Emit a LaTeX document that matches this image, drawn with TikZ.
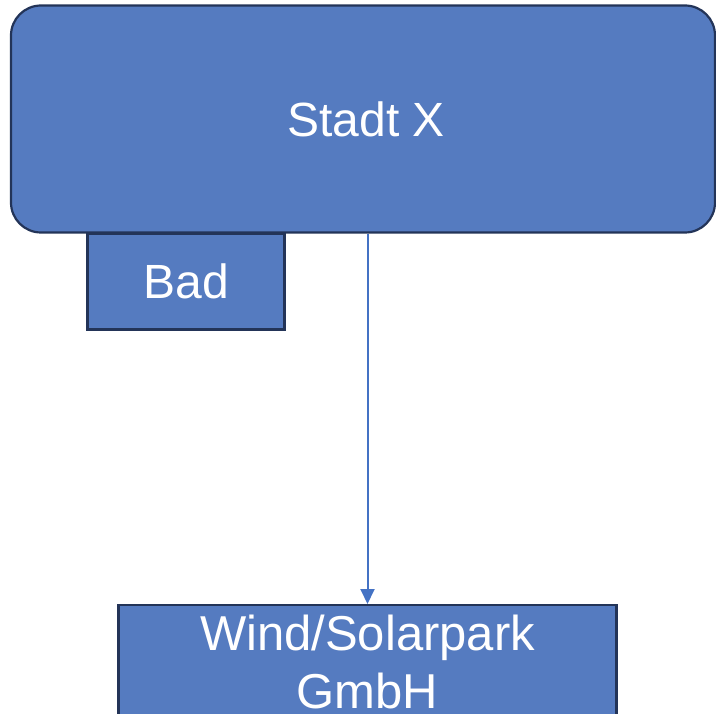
\documentclass[tikz,border=0pt]{standalone}
\usepackage{fontspec}
\setmainfont{Liberation Sans}
\usetikzlibrary{arrows.meta}
\definecolor{boxblue}{RGB}{85,123,192}
\definecolor{boxedge}{RGB}{35,52,88}
\definecolor{arrowblue}{RGB}{68,114,196}
\tikzset{
  orgbox/.style={draw=boxedge, line width=2.2pt, fill=boxblue, text=white,
    font=\fontsize{48}{58}\selectfont, align=center, inner sep=0pt},
  linkline/.style={draw=arrowblue, line width=2pt, -{Triangle[length=15pt,width=14pt]}}
}

\begin{document}
\begin{tikzpicture}[x=1pt,y=1pt,yscale=-1,xscale=1]
\useasboundingbox (0,0) rectangle (716,714);

%Shape: Rounded Rect [id:stadt]
\node [orgbox, rounded corners=30pt, minimum width=704pt, minimum height=227pt] (stadt) at (363,119) {\hspace*{6pt}Stadt X};
%Shape: Rectangle [id:bad]
\node [orgbox, minimum width=197pt, minimum height=96pt] (bad) at (186,281.5) {Bad};
%Shape: Rectangle [id:park]
\node [orgbox, anchor=north, minimum width=498pt, inner ysep=10pt, font=\fontsize{49}{58}\selectfont] (park) at (367.5,604) {Wind/Solarpark\\GmbH};

%Straight Lines [id:link]
\draw [linkline] (stadt.south -| park.north) -- (park.north);

\end{tikzpicture}
\end{document}
